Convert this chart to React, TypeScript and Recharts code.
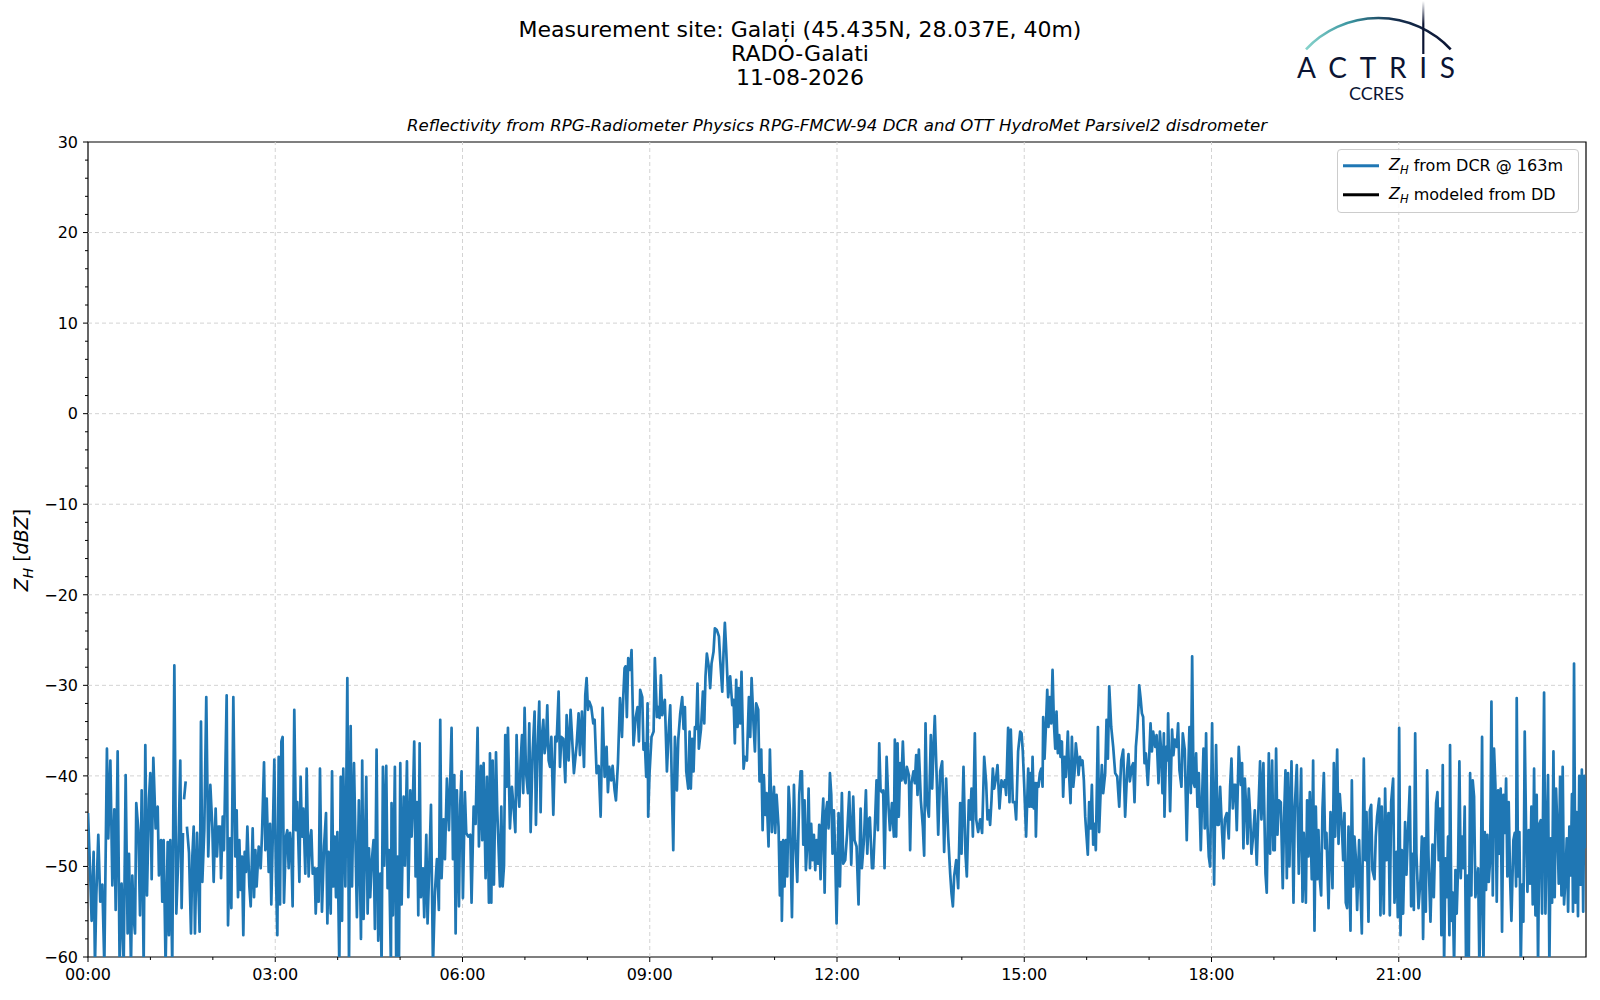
import { Line, LineChart, ReferenceArea, ReferenceLine, XAxis, YAxis } from "recharts";

type Pt = [number, number | null];

// time in minutes since 00:00, Z_H in dBZ (values below -60 are clipped by the axis)
const zhDcrPart1: Pt[] = [
  [0, -44.1], [1.6, -49.1], [3.5, -56], [5.4, -48.4], [6.7, -61], [8, -53.2], [9.9, -46.5], [11.8, -53.9],
  [13.8, -52], [15.7, -61], [18.2, -37], [19.5, -46.9], [21.5, -38.3], [23.4, -52.1], [25.3, -43.7], [26.6, -54.8],
  [28.5, -37.3], [30.4, -61], [32.3, -51.9], [34.3, -61], [36.2, -39.9], [38.1, -57.4], [39.4, -48.6], [41.3, -61],
  [42.6, -51], [43.9, -55.6], [45.2, -57.4], [46.4, -43], [48.4, -46], [50, -55.4], [51.6, -41.6], [53.5, -61],
  [55.1, -36.6], [56.7, -53.2], [58.6, -42.5], [59.9, -39.7], [61.2, -51.4], [62.8, -38], [65, -45.8], [67, -43.4],
  [68.2, -51], [70.2, -47.1], [71.4, -53.9], [72.7, -47.1], [74.6, -61], [76.6, -47.3], [77.8, -57.6], [79.1, -47.1],
  [81, -61], [83, -27.8], [84.9, -55.2], [86.8, -48.9], [88.7, -38.3], [90, -54.6], [91.3, -46.3], [91.8, null],
  [92.3, -42.6], [93.9, -40.6], [94.5, null], [95.1, -45.6], [97.1, -48.5], [99, -57.4], [100.3, -48.9], [101.6, -45.6],
  [102.8, -57.4], [104.8, -46.3], [107.3, -57.2], [108.6, -34], [109.9, -51.7], [111.8, -46], [113.7, -31.3],
  [115.6, -48.9], [117.6, -41], [119.5, -45.6], [120.8, -51.7], [122.7, -43.6], [124, -48.9], [125.3, -45.6],
];

const zhDcrPart2: Pt[] = [
  [126.9, -45.6], [127.9, -51.3], [129.5, -44.5], [130.7, -48.2], [133.3, -31.1], [134.6, -56.5], [136.5, -46.9],
  [137.8, -54.6], [139.7, -31.3], [141.6, -48.9], [142.9, -43.8], [144.2, -53.4], [145.5, -47.1], [146.8, -52.6],
  [148, -48.9], [149.3, -57.6], [150.6, -48.4], [151.9, -50.6], [153.2, -45.6], [155.1, -52.2], [156.4, -54.4],
  [158.3, -45.8], [159.6, -53.4], [160.9, -48.2], [162.1, -52.2], [164.1, -47.8], [166, -50.2], [167.3, -46.3],
  [169.2, -38.5], [170.5, -48.2], [171.8, -42.5], [173.7, -50.6], [175, -45.3], [176.2, -54.2], [177.5, -47.3],
  [179.1, -38.2], [180.7, -51.1], [182, -57.6], [183.3, -37.9], [184.6, -54.2], [185.9, -36.2], [187.1, -35.7],
  [188.4, -54], [190.3, -46.7], [191.6, -46], [192.9, -50.2], [194.2, -46.3], [195.5, -48.2], [196.7, -54.4],
  [198.3, -32.7], [199.9, -46], [201.2, -42.9], [203.2, -51.7], [204.4, -40.1], [205.7, -46.7], [207, -43.6],
  [208.9, -50.8], [210.2, -39.2], [212.1, -51.1], [213.4, -47.1], [214.7, -46], [216, -50.8], [217.9, -50.2],
  [218.9, -55.2], [220.5, -50.2], [221.7, -53.9], [223, -39.2], [224.9, -55], [226.9, -47.8], [228.8, -44.1],
  [230.1, -56.3], [231.3, -48.4], [233.3, -55.2], [234.6, -39.5], [235.8, -52.2], [237.1, -46.7], [238.4, -53.4],
  [239.7, -46.2], [241.6, -61], [242.9, -40.1], [244.2, -56], [245.4, -39.2], [247.4, -52.2], [249.3, -29.2],
  [250.9, -61], [252.5, -34.5], [253.8, -52.2], [255.7, -38.6],
];

const zhDcrPart3: Pt[] = [
  [258.5, -55.6], [260.4, -42.7], [262.4, -58], [263.6, -38.3], [264.9, -55.8], [267.5, -40.1], [268.8, -55.2],
  [270.1, -48], [271.3, -53.4], [272.6, -49.7], [274.5, -47.1], [275.8, -56.9], [277.4, -37.1], [279, -58.2],
  [281, -50.8], [282.2, -61], [283.5, -39], [284.8, -49.9], [286.7, -38.9], [288, -52.4], [289.3, -48.2],
  [291.2, -61], [291.8, -43], [293.1, -55.4], [295, -39], [296.3, -61], [297.6, -48.9], [298.9, -61], [300.2, -38.6],
  [301.5, -54.2], [303.4, -42.3], [304.7, -49.9], [306.6, -38.4], [307.9, -53.4], [309.8, -41.6], [311.1, -46.7],
  [312.3, -42.9], [313.6, -36.2], [314.9, -51.1], [316.2, -42.9], [317.5, -55.4], [318.8, -36.4], [320, -53.4],
  [322, -50.2], [323.2, -55.6], [325.2, -46.5], [326.4, -56.3], [327.7, -51.4], [329.7, -43.2], [331.6, -61],
  [333.5, -52.8], [335.4, -49.2], [337.3, -54.8], [338.6, -33.8], [339.9, -51.3], [341.8, -44.8], [343.1, -49.2],
  [345, -40.3], [347, -46], [349.5, -34.7], [350.8, -49.2], [352.1, -39.9], [353.4, -57.4], [354.6, -41.6],
  [356.6, -54.4], [357.8, -43.2], [359.1, -39.5], [360.4, -53.5], [362.3, -41.8], [363.6, -46.3], [365.5, -46.7],
  [367.5, -46.5], [368.7, -54], [370.7, -43.4], [372.6, -45.3], [374.5, -34.7], [375.8, -47.8], [377.7, -38.9],
  [379, -47.1], [380.3, -38.6], [382.2, -51.3], [383.5, -40.1], [385.4, -54],
];

const zhDcrPart4: Pt[] = [
  [386.4, -37.5], [387.7, -54], [389, -38.3], [390.2, -52], [392.2, -37.4], [393.4, -43.8], [396, -52.2],
  [397.3, -43.4], [398.6, -52.2], [399.9, -49.9], [401.1, -35.5], [402.4, -41.2], [403.7, -34.7], [405.6, -45.8],
  [407.5, -41.2], [409.5, -44.1], [410.8, -46.2], [412, -35.5], [413.3, -41.2], [414.6, -43.4], [415.9, -38.4],
  [417.2, -35.5], [418.4, -41.9], [419.7, -32.5], [421, -39.5], [422.9, -41.9], [424.2, -34.2], [425.5, -46.2],
  [427.4, -37.5], [429.3, -32.9], [430.6, -45.4], [431.9, -37.9], [433.8, -31.8], [435.1, -44], [436.4, -35.5],
  [437.7, -33.8], [438.9, -37.5], [440.2, -36.4], [441.5, -32.2], [442.8, -38.3], [444.1, -39], [445.4, -35.7],
  [447.3, -44.3], [449.2, -35.7], [450.5, -36.2], [452.4, -30.7], [453.7, -39], [455, -35.7], [456.9, -35.9],
  [458.8, -40.7], [460.1, -33.3], [462, -38.3], [463.9, -32.7], [465.2, -35.5], [467.1, -39.7], [469.7, -36.6],
  [471.6, -33.1], [472.9, -37.7], [474.8, -32.9], [476.8, -39], [478, -31.1], [479.3, -29.2], [480.6, -32.7],
  [481.9, -31.8], [483.8, -32.4], [485.7, -34.2], [487, -33.8], [488.9, -39.7], [490.9, -38.9], [492.8, -44.5],
  [494.7, -32.5], [496.6, -40.1], [498.5, -36.8], [499.8, -41.8], [501.1, -39], [503, -40.5], [504.3, -38.9],
  [506.2, -41.6], [507.5, -42.7], [509.4, -38.6], [511.4, -31.4], [513.3, -35.7], [514.6, -31.1], [515.8, -28.1],
];

const zhDcrPart5: Pt[] = [
  [516.7, -27.9], [518, -33.5], [519.3, -27], [521.2, -28.3], [522.5, -26.1], [524.4, -36.6], [526.4, -33.6],
  [528.3, -32.4], [529.6, -36.2], [530.8, -30.5], [532.8, -31.3], [534, -37.1], [535.3, -36.4], [536.6, -40.1],
  [537.9, -32], [538.5, -44.5], [539.8, -39.7], [541.7, -35.7], [543.7, -35.1], [544.9, -27], [546.9, -33.5],
  [548.1, -32.4], [549.4, -33.6], [550.7, -28.9], [552, -33.3], [554.5, -31.6], [556.5, -39.5], [558.4, -34.6],
  [559.7, -32.2], [561, -39.7], [562.6, -48.2], [564.2, -35.7], [566.1, -41.6], [567.4, -36], [569.3, -33.1],
  [571.2, -31.3], [572.5, -34.8], [573.8, -32.4], [575.1, -39.5], [577, -41.4], [578.3, -35.1], [579.5, -41.4],
  [580.8, -35.9], [582.1, -39.5], [583.4, -34.6], [584.7, -34.8], [585.9, -29.8], [587.2, -37], [589.2, -34.9],
  [591.1, -30.7], [592.4, -34.2], [593.6, -29], [594.9, -26.5], [596.8, -28], [598.1, -30.3], [599.4, -27.6],
  [601.3, -26.3], [602.6, -23.7], [604.5, -23.9], [606.5, -24.6], [607.7, -27.2], [609.7, -30.7], [610.9, -26.5],
  [612.2, -23.1], [613.5, -26.1], [615.4, -31.3], [617.3, -29], [619.3, -32.2], [620.6, -31.6], [621.8, -36.4],
  [623.1, -29.4], [624.4, -34.6], [625.7, -30.3], [627, -34.2], [628.2, -28.5], [630.2, -39.2], [631.4, -37.9],
  [633.4, -38.3], [635.3, -31.3], [636.6, -35.7], [637.9, -29.2], [639.8, -34.4], [641.1, -37.3], [642.3, -32],
  [644.3, -32.7], [645.5, -40.6],
];

const zhDcrPart6: Pt[] = [
  [647.2, -37.1], [648.5, -46], [649.7, -39.9], [651, -44.3], [652.3, -41.9], [654.2, -47.8], [655.5, -37.1],
  [657.4, -46.2], [659.4, -41.2], [660.6, -46.3], [661.9, -42.1], [663.8, -45.6], [665.1, -53.2], [666.4, -47.3],
  [667, -56], [668.3, -47.1], [669.6, -52.2], [670.9, -47.1], [672.2, -51.1], [673.5, -41.2], [674.7, -43.8],
  [676.7, -55.6], [678.6, -41], [679.9, -47.1], [681.8, -51.7], [683.7, -42.1], [685, -39.5], [686.3, -39.5],
  [687.6, -47.6], [688.8, -42.7], [690.1, -50.4], [691.4, -47.6], [692.7, -41.4], [694, -50.2], [695.2, -45.3],
  [696.5, -49.3], [697.8, -46.5], [699.1, -50.4], [700.4, -47.1], [701.6, -49.7], [702.9, -45.4], [704.2, -51.4],
  [705.5, -45.4], [706.8, -42.5], [708.1, -52.9], [709.3, -44.1], [710.6, -42.9], [711.9, -45.8], [713.2, -39.7],
  [714.5, -42.1], [715.7, -48.6], [717, -43.8], [718.3, -48.8], [719.6, -56.3], [721.5, -44.1], [722.8, -52.2],
  [724.7, -41.9], [726, -49.7], [727.9, -49.3], [729.8, -46.3], [731.8, -41.8], [733.7, -49.8], [735.6, -42.3],
  [736.9, -47.1], [738.8, -47.8], [740.7, -54.2], [742.7, -43.6], [743.9, -50.2], [745.9, -47.1], [747.8, -41.6],
  [749.1, -48.6], [750.4, -44.8], [751.6, -44.6], [753.6, -50.2], [754.8, -50.2], [756.1, -46.5], [758, -40.5],
  [759.3, -46], [760.6, -36.4], [761.9, -41.6], [763.2, -41.8], [764.4, -41.6], [765.7, -50.2], [767.7, -37.9],
  [769.6, -43.6], [770.9, -46], [772.8, -43], [774.7, -46.7],
];

const zhDcrPart7: Pt[] = [
  [775.6, -36], [776.9, -46.7], [778.2, -36.4], [779.4, -44.5], [780.7, -38.6], [782, -40.5], [783.3, -36.2],
  [784.6, -40.3], [785.9, -40.8], [787.1, -39], [789.1, -39.9], [790.3, -48.2], [791.6, -40.8], [793.5, -39.5],
  [794.8, -40.8], [796.1, -37.7], [797.4, -42.1], [798.7, -37.1], [800.6, -42.7], [802.5, -45.6], [803.8, -48.8],
  [805.1, -34.2], [806.4, -42.9], [808.3, -44.5], [810.2, -35.5], [811.5, -41.4], [812.8, -36.8], [814, -33.4],
  [816, -40.8], [817.3, -46.5], [819.2, -39.5], [821.1, -38.4], [823, -48.4], [824.9, -40.3], [826.9, -46.7],
  [828.8, -50.8], [830.1, -53], [831.4, -54.4], [832.6, -51.1], [834.6, -49.3], [836.5, -52.4], [838.4, -43],
  [839.7, -48.6], [841.6, -39], [843.5, -48.6], [844.8, -51.1], [846.7, -42.7], [848, -44.8], [849.3, -41.4],
  [850.6, -46.7], [852.5, -35.3], [853.8, -44.8], [855.7, -46.2], [857.6, -44.8], [859.5, -46.3], [861.5, -37.9],
  [863.4, -40.8], [864.7, -44.8], [866, -43.8], [867.2, -45.4], [868.5, -42.7], [869.8, -39.2], [871.1, -41.4],
  [873, -40.1], [874.3, -38.8], [876.2, -43.6], [878.1, -40.5], [880.1, -41.2], [881.3, -40.5], [882.6, -42.1],
  [884.5, -34.7], [885.8, -42.9], [887.1, -34.9], [889, -42.9], [890.9, -42.9], [892.2, -44.8], [894.1, -37.3],
  [896.1, -35.1], [897.4, -35.3], [898.6, -37.3], [899.9, -40.9], [901.8, -46.7], [903.8, -39.2], [905, -43.4],
];

const zhDcrPart8: Pt[] = [
  [906.2, -39.7], [907.2, -43.4], [908, -37.9], [909.2, -43.6], [910.5, -40.8], [911.2, -46.7], [912.4, -40.8],
  [913.7, -41.2], [915, -39.7], [916.3, -39.2], [917.6, -41.2], [918.2, -33.5], [919.5, -38.1], [920.8, -34.6],
  [922.1, -30.5], [923.3, -34.6], [924.6, -31.3], [925.9, -34.2], [927.2, -28.3], [928.5, -34.1], [929.8, -37],
  [931, -32.9], [932.3, -37.5], [933.6, -35.5], [934.9, -37.9], [936.2, -36.2], [937.4, -42.3], [938.7, -37.9],
  [940, -40.1], [941.9, -35.1], [943.2, -40.1], [944.5, -43], [945.8, -35.7], [947.1, -41.2], [948.3, -39.7],
  [949.6, -36.4], [950.9, -37.9], [952.2, -39.9], [953.5, -37.9], [954.7, -38.8], [956, -38.3], [957.3, -40.5],
  [958.6, -44.5], [959.9, -46.7], [961.1, -48.7], [962.4, -42.9], [963.7, -45.8], [965, -41], [966.3, -47.6],
  [967.6, -45.3], [968.8, -48.2], [970.8, -34.6], [972, -46.2], [973.3, -42.1], [974.6, -38.8], [975.9, -41.9],
  [977.8, -39.7], [979.1, -33.8], [980.4, -38.1], [981.7, -30.1], [983.6, -34.6], [985.5, -36.8], [987.4, -39.7],
  [989.4, -40.1], [991.3, -43.4], [993.2, -38.3], [995.1, -37.1], [997, -44.5], [999, -39.2], [1000.2, -37.6],
  [1001.5, -40.6], [1003.4, -39], [1004.7, -38.6], [1006, -42.9], [1007.3, -36.8], [1008.6, -34.9], [1009.9, -32],
  [1010.5, -30], [1011.8, -31.4], [1013.1, -33.1], [1014.3, -33.5], [1015.6, -38.6], [1016.9, -37.5], [1018.8, -41],
  [1020.1, -37.9], [1021.4, -34.2], [1022.7, -37.3], [1023.9, -35.1], [1025.9, -36.8], [1027.2, -35.5],
  [1029.1, -40.8], [1030.4, -35.1], [1031.6, -37.3], [1032.9, -41.9], [1034.2, -35.3], [1034.8, -44.5],
];

const zhDcrPart9: Pt[] = [
  [1036.4, -36.8], [1037.7, -38.3], [1038.3, -33.1], [1040.2, -43.9], [1042.1, -34.9], [1043.4, -37.7],
  [1044.7, -36], [1046.6, -36.8], [1047.9, -34.2], [1049.2, -39.4], [1051.1, -41.2], [1052.4, -35.3],
  [1054.3, -37.1], [1056.2, -47.1], [1057.5, -40.1], [1058.8, -34.6], [1060.1, -41.9], [1061.4, -26.8],
  [1062.7, -40.8], [1063.9, -41.2], [1065.2, -37.5], [1066.5, -43.4], [1067.8, -39.7], [1069.7, -48.2],
  [1071, -42.3], [1072.3, -37], [1073.5, -45.8], [1074.8, -35.3], [1076.1, -45.4], [1077.4, -48.9], [1078.7, -50],
  [1080.6, -34.2], [1082.5, -52], [1084.4, -36.6], [1085.7, -45.4], [1087, -45.4], [1088.3, -41.2], [1090.2, -46.3],
  [1091.5, -49.1], [1092.8, -44.8], [1094.7, -44.1], [1096.6, -46.9], [1097.9, -41.2], [1099.2, -38.1],
  [1100.5, -43.6], [1101.7, -41], [1103, -41], [1104.3, -46], [1106.2, -36.8], [1108.2, -41], [1109.4, -38.6],
  [1110.7, -48], [1112, -40.3], [1113.3, -43.4], [1114.6, -47.5], [1115.8, -41.4], [1117.1, -44.1], [1118.4, -48.6],
  [1120.3, -46.3], [1121.6, -43.8], [1123.5, -49.8], [1124.8, -44.8], [1126.7, -38.4], [1128, -44.8],
  [1129.9, -38.6], [1131.9, -50.8], [1133.1, -52.9], [1135.1, -37.5], [1136.3, -48.6], [1138.3, -38.3],
  [1139.5, -48.2], [1140.8, -48.2], [1142.1, -37], [1143.4, -46.5], [1144.7, -42.7], [1146.6, -42.9],
  [1148.5, -52.4], [1149.8, -44.5], [1151.1, -39.4], [1152.4, -51.3], [1153.6, -39.7], [1154.9, -50],
  [1156.9, -38.4], [1158.8, -54], [1160.1, -43.4], [1162, -38.8], [1163.9, -50.8],
];

const zhDcrPart10: Pt[] = [
  [1166.2, -39.2], [1167.5, -53.9], [1168.7, -46.3], [1170.7, -54], [1171.9, -42.7], [1173.2, -48.9],
  [1174.5, -41.8], [1176.4, -51.4], [1177.7, -38.3], [1179, -57.1], [1180.3, -43.4], [1181.6, -51.4],
  [1182.8, -46], [1184.1, -51.4], [1185.4, -53.2], [1186.7, -43.6], [1188, -39.7], [1189.3, -48], [1190.5, -46.3],
  [1192.5, -54.6], [1194.4, -44], [1196.3, -52.4], [1197.6, -38.6], [1198.9, -46.7], [1200.8, -37.1],
  [1202.1, -47.5], [1203.3, -42], [1205.3, -45.6], [1206.6, -49.3], [1207.8, -44.1], [1209.1, -54], [1210.4, -54.6],
  [1211.7, -45.6], [1213.6, -57.1], [1214.9, -40.5], [1216.2, -52.2], [1217.4, -46.7], [1218.7, -48.9],
  [1220, -54.8], [1221.9, -47.1], [1224.5, -57.4], [1226.4, -38.1], [1227.7, -49.3], [1229, -44], [1230.9, -56.1],
  [1232.2, -43.8], [1233.5, -43.2], [1234.7, -50.4], [1236.7, -51.4], [1237.9, -46.7], [1239.2, -44.5],
  [1241.2, -42.5], [1242.4, -55.4], [1243.7, -43.4], [1245.6, -55.2], [1246.9, -41.4], [1248.2, -49.3],
  [1250.1, -44.1], [1251.4, -55.4], [1252.7, -42.9], [1254.6, -40.3], [1255.9, -54], [1257.8, -48.4],
  [1259.1, -55.6], [1260.4, -34.7], [1261.7, -57.6], [1262.9, -48.2], [1264.2, -55.2], [1266.1, -45.1],
  [1267.4, -50.9], [1268.7, -46.7], [1270.6, -41.2], [1271.9, -54.4], [1273.2, -48.6], [1274.5, -54.8],
  [1275.8, -35.3], [1277, -48.6], [1279, -54.6], [1280.9, -51.4], [1282.2, -46.7], [1283.4, -58], [1284.7, -46.9],
  [1286, -55], [1287.3, -39.4], [1288.6, -48.9], [1290.5, -56.1], [1292.4, -47.6], [1293.7, -53.4],
];

const zhDcrPart11: Pt[] = [
  [1295.9, -43], [1297.2, -41.8], [1298.4, -49.3], [1299.7, -43.6], [1301, -57.6], [1302.3, -38.8], [1303.6, -61],
  [1304.9, -49.1], [1306.1, -53.4], [1307.4, -46.7], [1308.7, -57.6], [1309.3, -36.6], [1310.6, -56],
  [1311.9, -52.9], [1313.2, -61], [1314.5, -50.4], [1315.7, -55.2], [1317, -50.2], [1318.3, -38.4], [1319.6, -51.3],
  [1320.9, -46.7], [1322.2, -50.2], [1323.4, -43.4], [1324.7, -61], [1326, -51], [1327.3, -61], [1328.6, -39.7],
  [1329.8, -53.2], [1331.1, -40.5], [1332.4, -42.3], [1333.7, -53.4], [1336.3, -50.2], [1337.5, -61],
  [1338.8, -53.4], [1340.1, -35.7], [1341.4, -61], [1342.7, -46.2], [1343.9, -52.6], [1345.2, -46.5],
  [1346.5, -51.7], [1347.8, -49.3], [1349.1, -31.8], [1350.4, -53.2], [1351.6, -37], [1352.9, -41], [1354.2, -53.9],
  [1355.5, -41.6], [1356.8, -48.6], [1358, -41.4], [1359.3, -57.2], [1360.6, -42.1], [1361.9, -46.3],
  [1363.2, -40.3], [1364.4, -51.1], [1365.7, -42.9], [1367, -51.1], [1368.3, -56], [1370.2, -47.1], [1371.5, -46.3],
  [1372.8, -52.2], [1373.4, -31.4], [1374.7, -51.1], [1376, -46.2], [1377.3, -61], [1378.5, -52], [1379.8, -56.1],
  [1381.1, -35.1], [1382.4, -46], [1383.7, -52.8], [1385, -46], [1386.2, -51.9], [1387.5, -43.4], [1388.8, -54.2],
  [1390.1, -39.2], [1391.4, -55.4], [1392.6, -42.1], [1393.9, -61], [1395.2, -45.3], [1396.5, -44.9],
  [1397.8, -55.2], [1399.7, -30.8], [1401, -55.2], [1402.3, -46.3], [1403.5, -39.9], [1404.8, -61], [1406.1, -46.9],
  [1407.4, -54], [1408.7, -37.3], [1409.9, -53.4], [1411.2, -41.4], [1412.5, -45.8], [1413.8, -51.9],
  [1415.1, -40.1], [1416.4, -53.2], [1417.6, -39], [1418.9, -54.2], [1420.2, -51.4], [1421.5, -46.9], [1422.8, -55],
  [1424, -45.6],
];

const zhDcrPart12: Pt[] = [
  [1425.3, -51], [1426.5, -42], [1427.5, -55], [1428.5, -27.6], [1429.8, -54], [1431, -44], [1432.3, -55.5],
  [1433.5, -40], [1434.8, -52], [1436, -39.3], [1437.3, -55], [1438.5, -40], [1439.5, -48],
];

// the disdrometer-modelled series has no samples on this day
const zhDdModeled: Pt[] = [];

const majorYTicks = [-60, -50, -40, -30, -20, -10, 0, 10, 20, 30];
const minorYTicks = [
  -58, -56, -54, -52, -48, -46, -44, -42, -38, -36, -34, -32, -28, -26, -24, -22, -18, -16, -14, -12,
  -8, -6, -4, -2, 2, 4, 6, 8, 12, 14, 16, 18, 22, 24, 26, 28,
];
const majorXTicks = [0, 180, 360, 540, 720, 900, 1080, 1260];
const minorXTicks = [60, 120, 240, 300, 420, 480, 600, 660, 780, 840, 960, 1020, 1140, 1200, 1320, 1380];

const titleLines = ["Measurement site: Galați (45.435N, 28.037E, 40m)", "RADO-Galati", "11-08-2026"];
const subtitle =
  "Reflectivity from RPG-Radiometer Physics RPG-FMCW-94 DCR and OTT HydroMet Parsivel2 disdrometer";

const FONT = "'DejaVu Sans', sans-serif";
const BLUE = "#1f77b4";
const GRID = "#d3d3d3";

const fmtY = (v: number) => (v < 0 ? "\u2212" + Math.abs(v) : String(v));
const fmtX = (v: number) => String(Math.floor(v / 60)).padStart(2, "0") + ":00";

/* eslint-disable @typescript-eslint/no-explicit-any */
function YTick({ x, y, payload }: any) {
  const major = majorYTicks.includes(payload.value);
  return (
    <g>
      <line x1={x} x2={x - (major ? 5 : 3)} y1={y} y2={y} stroke="#000" strokeWidth={1} />
      {major && (
        <text x={x - 10} y={y} dy={5.8} textAnchor="end" fontSize={16} fontFamily={FONT} fill="#000">
          {fmtY(payload.value)}
        </text>
      )}
    </g>
  );
}

function XTick({ x, y, payload }: any) {
  const major = majorXTicks.includes(payload.value);
  return (
    <g>
      <line x1={x} x2={x} y1={y} y2={y + (major ? 5 : 3)} stroke="#000" strokeWidth={1} />
      {major && (
        <text x={x} y={y + 22.5} textAnchor="middle" fontSize={16} fontFamily={FONT} fill="#000">
          {fmtX(payload.value)}
        </text>
      )}
    </g>
  );
}
/* eslint-enable @typescript-eslint/no-explicit-any */

function ZH() {
  return (
    <span>
      <i>Z</i>
      <sub style={{ fontSize: "0.72em", fontStyle: "italic", verticalAlign: "-0.3em" }}>H</sub>
    </span>
  );
}

function ActrisLogo() {
  return (
    <svg width={1600} height={110} style={{ position: "absolute", left: 0, top: 0 }}>
      <defs>
        <linearGradient id="arcGrad" gradientUnits="userSpaceOnUse" x1={1306} y1={0} x2={1451} y2={0}>
          <stop offset="0" stopColor="#86d3cb" />
          <stop offset="0.3" stopColor="#3a95a0" />
          <stop offset="0.6" stopColor="#16304f" />
          <stop offset="1" stopColor="#0b1433" />
        </linearGradient>
        <linearGradient id="poleGrad" gradientUnits="userSpaceOnUse" x1={0} y1={1} x2={0} y2={24}>
          <stop offset="0" stopColor="#ffffff" />
          <stop offset="1" stopColor="#0b1433" />
        </linearGradient>
      </defs>
      <path d="M 1306 49.3 A 99.3 99.3 0 0 1 1450.7 49.3" fill="none" stroke="url(#arcGrad)" strokeWidth={2.6} />
      <line x1={1423.3} x2={1423.3} y1={1} y2={54} stroke="url(#poleGrad)" strokeWidth={2.2} />
      <text x={1297} y={78} fontSize={28} fontFamily="Lato" fill="#0b1433" textLength={158} lengthAdjust="spacing">
        ACTRIS
      </text>
      <text x={1376.5} y={99.5} fontSize={18} fontFamily="Lato" fill="#0b1433" textAnchor="middle">
        CCRES
      </text>
    </svg>
  );
}

export default function App() {
  const dcrData = [
    zhDcrPart1, zhDcrPart2, zhDcrPart3, zhDcrPart4, zhDcrPart5, zhDcrPart6,
    zhDcrPart7, zhDcrPart8, zhDcrPart9, zhDcrPart10, zhDcrPart11, zhDcrPart12,
  ]
    .flat()
    .map(([t, z]) => ({ t, z }));
  const ddData = zhDdModeled.map(([t, z]) => ({ t, z }));
  const xTicks = [...majorXTicks, ...minorXTicks].sort((a, b) => a - b);
  const yTicks = [...majorYTicks, ...minorYTicks].sort((a, b) => a - b);

  return (
    <div
      style={{
        position: "absolute",
        left: 0,
        top: 0,
        width: 1600,
        height: 1000,
        background: "#fff",
        fontFamily: FONT,
        color: "#000",
      }}
    >
      <div style={{ position: "absolute", left: 0, top: 18, width: 1600, textAlign: "center", fontSize: 22, lineHeight: "24px" }}>
        {titleLines.map((l) => (
          <div key={l}>{l}</div>
        ))}
      </div>
      <div
        style={{
          position: "absolute",
          left: 88,
          top: 115.5,
          width: 1498,
          textAlign: "center",
          fontSize: 16.6,
          lineHeight: "20px",
          fontStyle: "italic",
        }}
      >
        {subtitle}
      </div>
      <ActrisLogo />

      <div style={{ position: "absolute", left: 0, top: 0 }}>
        <LineChart width={1600} height={1000} margin={{ top: 142, right: 14, bottom: 0, left: 0 }}>
          <XAxis
            dataKey="t"
            type="number"
            domain={[0, 1440]}
            ticks={xTicks}
            interval={0}
            tick={<XTick />}
            tickLine={false}
            axisLine={false}
            tickSize={0}
            tickMargin={0}
            height={43}
            allowDataOverflow
          />
          <YAxis
            type="number"
            domain={[-60, 30]}
            ticks={yTicks}
            interval={0}
            tick={<YTick />}
            tickLine={false}
            axisLine={false}
            tickSize={0}
            tickMargin={0}
            width={88}
            allowDataOverflow
          />
          {majorYTicks
            .filter((v) => v !== 30 && v !== -60)
            .map((v) => (
              <ReferenceLine key={"gy" + v} y={v} stroke={GRID} strokeDasharray="4 3" strokeWidth={1} />
            ))}
          {majorXTicks
            .filter((v) => v !== 0)
            .map((v) => (
              <ReferenceLine key={"gx" + v} x={v} stroke={GRID} strokeDasharray="4 3" strokeWidth={1} />
            ))}
          <Line
            data={dcrData}
            dataKey="z"
            type="linear"
            stroke={BLUE}
            strokeWidth={2.7}
            strokeLinejoin="round"
            dot={false}
            activeDot={false}
            isAnimationActive={false}
          />
          <Line
            data={ddData}
            dataKey="z"
            type="linear"
            stroke="#000"
            strokeWidth={2.7}
            dot={false}
            activeDot={false}
            isAnimationActive={false}
          />
          <ReferenceArea
            x1={0}
            x2={1440}
            y1={-60}
            y2={30}
            fill="none"
            fillOpacity={0}
            stroke="#000"
            strokeOpacity={1}
            strokeWidth={1.2}
          />
        </LineChart>
      </div>

      <div
        style={{
          position: "absolute",
          left: 23,
          top: 549.5,
          transform: "translate(-50%, -50%) rotate(-90deg)",
          fontSize: 19,
          whiteSpace: "nowrap",
        }}
      >
        <ZH /> [<i>dBZ</i>]
      </div>

      <div
        style={{
          position: "absolute",
          left: 1337,
          top: 149,
          width: 242,
          height: 64,
          boxSizing: "border-box",
          border: "1px solid #cccccc",
          borderRadius: 4,
          background: "rgba(255,255,255,0.8)",
          fontSize: 16,
        }}
      >
        {[
          { color: BLUE, label: "from DCR @ 163m", top: 15.5 },
          { color: "#000", label: "modeled from DD", top: 45 },
        ].map((r) => (
          <div
            key={r.label}
            style={{
              position: "absolute",
              left: 5,
              top: r.top,
              transform: "translateY(-50%)",
              display: "flex",
              alignItems: "center",
              whiteSpace: "nowrap",
            }}
          >
            <div style={{ width: 36, height: 2.6, background: r.color, marginRight: 10 }} />
            <ZH />
            <span>&nbsp;{r.label}</span>
          </div>
        ))}
      </div>
    </div>
  );
}
